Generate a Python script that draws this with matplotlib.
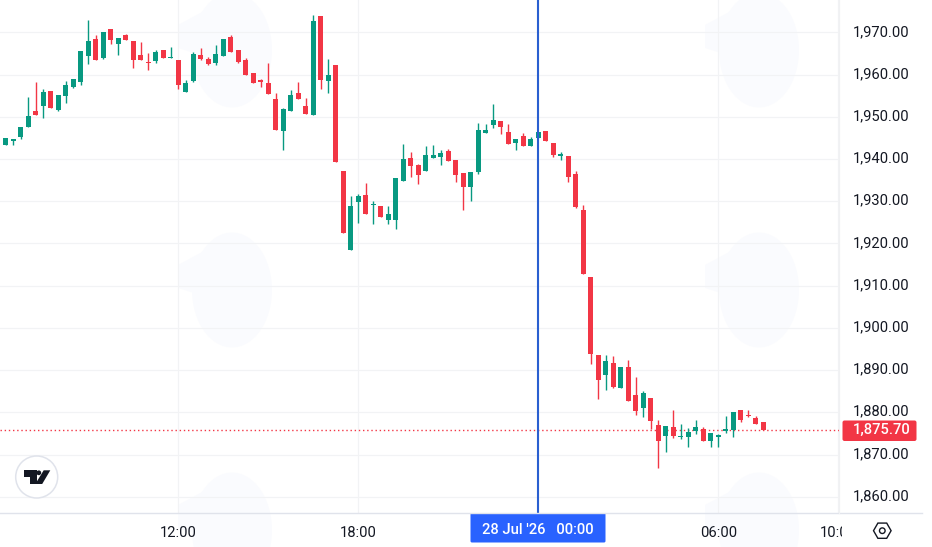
import matplotlib
matplotlib.use("Agg")
import matplotlib.pyplot as plt
from matplotlib.patches import FancyBboxPatch, Polygon, Circle, RegularPolygon, Ellipse
from matplotlib.transforms import Bbox, ScaledTranslation

# candle tops/bottoms of the body plus wick extremes (USD)
body_top = [1945.0,1944.7,1947.6,1950.2,1951.4,1955.9,1956.1,1955.2,1957.5,1958.9,1965.6,1967.9,1968.4,1970.1,1970.8,1968.7,1969.4,1967.9,1964.6,1963.0,1965.3,1965.8,1964.2,1963.4,1958.0,1964.9,1964.6,1963.7,1964.9,1968.4,1968.9,1965.8,1963.4,1960.4,1958.6,1958.0,1954.2,1951.8,1955.2,1955.6,1952.5,1972.7,1973.9,1959.9,1962.3,1937.2,1928.9,1931.2,1931.5,1929.4,1928.9,1927.0,1935.5,1940.0,1940.2,1938.6,1941.0,1941.0,1941.4,1941.9,1939.8,1936.7,1936.9,1946.9,1946.9,1949.2,1949.0,1946.4,1944.7,1945.4,1944.7,1946.4,1946.6,1943.8,1941.2,1940.7,1936.4,1927.9,1912.1,1893.6,1892.2,1891.7,1890.8,1890.8,1884.1,1884.6,1883.4,1877.0,1876.8,1876.5,1874.4,1875.4,1876.5,1876.1,1875.1,1874.6,1876.1,1880.1,1880.6,1879.4,1878.7,1877.7]
body_bot = [1943.3,1944.3,1945.2,1947.6,1950.4,1952.5,1952.1,1951.6,1954.9,1957.0,1958.2,1964.4,1963.4,1963.9,1968.2,1967.2,1968.2,1963.4,1963.4,1962.8,1963.2,1963.9,1963.9,1957.5,1955.9,1958.5,1963.7,1962.5,1962.7,1964.4,1965.3,1963.0,1959.9,1958.0,1958.3,1955.4,1946.9,1946.6,1951.4,1954.2,1950.7,1950.4,1958.7,1958.5,1939.3,1922.5,1918.5,1929.8,1927.0,1929.2,1926.3,1925.6,1925.6,1934.8,1938.3,1936.2,1937.2,1940.2,1940.5,1939.5,1936.2,1933.4,1933.4,1936.9,1946.2,1948.1,1947.6,1943.6,1943.8,1943.1,1943.1,1945.0,1944.3,1941.0,1940.8,1935.7,1928.6,1912.8,1893.8,1887.7,1888.9,1886.0,1885.8,1882.7,1880.3,1881.0,1878.0,1873.2,1874.4,1874.4,1874.2,1874.2,1875.6,1873.2,1873.2,1874.2,1875.6,1875.8,1878.2,1879.1,1877.2,1875.7]
highs = [1945.0,1944.7,1947.6,1954.7,1958.2,1956.6,1956.1,1955.2,1958.5,1958.9,1965.6,1972.9,1969.4,1970.1,1970.8,1968.7,1969.6,1967.9,1967.7,1965.1,1965.8,1965.8,1966.5,1963.4,1958.7,1965.3,1966.3,1964.2,1967.0,1968.4,1969.4,1965.8,1963.9,1960.4,1958.9,1962.7,1955.6,1952.1,1956.3,1958.2,1954.4,1974.1,1973.9,1963.7,1962.3,1937.2,1931.2,1931.7,1934.3,1930.1,1928.9,1928.9,1935.5,1943.6,1941.7,1938.8,1943.1,1943.3,1942.1,1942.4,1939.8,1936.7,1936.9,1948.5,1948.3,1953.0,1949.0,1948.3,1944.7,1946.2,1945.2,1946.4,1946.6,1943.8,1941.7,1940.7,1937.2,1929.1,1912.1,1893.6,1893.6,1893.4,1890.8,1892.4,1888.4,1885.1,1883.4,1878.2,1876.8,1880.6,1877.2,1876.3,1878.2,1876.5,1875.1,1874.9,1879.1,1880.1,1880.6,1880.6,1879.1,1877.7]
lows = [1943.3,1943.3,1944.7,1947.6,1950.4,1949.7,1952.1,1951.4,1953.3,1956.7,1957.5,1962.5,1963.4,1963.7,1967.2,1964.6,1968.2,1961.6,1963.4,1961.1,1962.7,1963.9,1963.9,1956.6,1955.9,1958.2,1963.4,1962.3,1962.3,1964.4,1965.3,1962.7,1959.9,1958.0,1957.0,1955.4,1946.9,1942.1,1951.4,1954.2,1950.7,1950.4,1956.6,1955.6,1939.3,1922.5,1918.5,1924.8,1927.0,1924.6,1926.3,1924.6,1923.4,1934.8,1935.7,1934.1,1937.2,1940.2,1938.6,1939.5,1934.6,1927.9,1930.1,1936.4,1946.2,1947.3,1945.9,1943.6,1942.1,1943.1,1943.1,1945.0,1944.3,1940.5,1939.8,1934.6,1928.4,1912.8,1891.5,1883.2,1885.3,1885.8,1885.8,1882.7,1879.4,1878.9,1876.1,1866.8,1870.6,1873.9,1873.7,1871.8,1874.9,1873.2,1871.8,1871.8,1875.1,1874.2,1877.7,1878.9,1877.2,1875.7]
direction = ("GGGGRGRGGG" "GGRGRGRRRR" "GRGRGGRRGG" "RRRRRRRGGR" "RGRGRRGGRG"
             "RGGGRRGGGR" "RRGGGGRRGR" "GGRRGRRRRR" "GRGRRGRRGR" "GGGRGGGGRR" "RR")
prices_ticks = [1860,1870,1880,1890,1900,1910,1920,1930,1940,1950,1960,1970]
time_idx = [23, 47, 95, 111]
time_lbl = ["12:00", "18:00", "06:00", "10:00"]
last_price = 1875.70
cross_idx = 71

GREEN, RED = "#089981", "#F23645"
W, H = 932, 547
plt.rcParams["font.family"] = "Roboto"
fig = plt.figure(figsize=(W/100, H/100), dpi=100, facecolor="white")
TXT = "#131722"
FS = 10.6

# faint watermark tiles, behind everything
bg = fig.add_axes([0, 0, 1, 1], zorder=0)
bg.set_xlim(0, W); bg.set_ylim(H, 0); bg.axis("off")
WM = "#fafbfe"
for cx in (240, 767):
    for cy in (50, 290, 530):
        bg.add_patch(Ellipse((cx-8, cy), 80, 115, fc=WM, ec="none"))
        bg.add_patch(Polygon([(cx-62, cy-25), (cx-12, cy-52), (cx+8, cy+20), (cx-62, cy-2)], fc=WM, ec="none"))

x1, y0 = 838.5, 513.3
ax = fig.add_axes([0, 1-y0/H, x1/W, y0/H], zorder=1, facecolor="none")
ax.set_xlim((0-5.8)/7.5, (x1-5.8)/7.5)
ax.set_ylim(1970-(513.3-32.3)/4.222, 1970+32.3/4.222)
for s in ax.spines.values():
    s.set_visible(False)
ax.set_axisbelow(True)
ax.grid(True, color="#f2f3f5", lw=0.85)
ax.set_yticks(prices_ticks)
ax.set_yticklabels([f"{p:,.2f}" for p in prices_ticks], fontsize=FS, color=TXT)
ax.yaxis.tick_right()
ax.tick_params(axis="y", length=0, pad=10.5)
ax.set_xticks(time_idx + [cross_idx])
ax.set_xticklabels(time_lbl + [""], fontsize=FS, color=TXT)
ax.tick_params(axis="x", length=0, pad=9.2)
lift = ScaledTranslation(0, 2/100, fig.dpi_scale_trans)
for t in ax.get_yticklabels():
    t.set_transform(t.get_transform() + lift)
clip = Bbox([[0, 0], [841.5, 60]])
for t in ax.get_xticklabels():
    t.set_clip_box(clip); t.set_clip_on(True)

idx = list(range(len(body_top)))
cols = [GREEN if d == "G" else RED for d in direction]
ax.vlines(idx, lows, highs, colors=cols, lw=1.0, zorder=3)
ax.bar(idx, [t-b for t, b in zip(body_top, body_bot)], bottom=body_bot, width=5/7.5, color=cols, lw=0, zorder=4)
ax.axvline(cross_idx, color="#2a5fd0", lw=1.5, zorder=6)
ax.axhline(last_price, color=RED, lw=1.0, ls=(0, (1, 2)), zorder=2, clip_on=False)

# overlay in pixel coordinates for chrome
ov = fig.add_axes([0, 0, 1, 1], facecolor="none", zorder=2)
ov.set_xlim(0, W); ov.set_ylim(H, 0); ov.axis("off")
ov.plot([0, 922], [513.3, 513.3], color="#e0e3eb", lw=1.0)
ov.plot([838.7, 838.7], [0, 513], color="#f0f1f3", lw=0.85)
ov.add_patch(FancyBboxPatch((842.5, 420.5), 74, 20.5, boxstyle="round,pad=0,rounding_size=2", fc=RED, ec="none"))
ov.text(881.5, 429.8, f"{last_price:,.2f}", color="white", fontsize=FS, ha="center", va="center", fontweight="medium")
ov.add_patch(FancyBboxPatch((470.5, 513), 135, 29.5, boxstyle="round,pad=0,rounding_size=1.5", fc="#2962FF", ec="none"))
ov.text(538, 530.5, "28 Jul '26   00:00", color="white", fontsize=FS, ha="center", va="center", fontweight="medium")
# TradingView logo
ov.add_patch(Circle((36.7, 477), 21, fc="white", ec="#e0e3eb", lw=1.1, zorder=5))
ov.add_patch(Polygon([(23.5,470.3),(36.8,470.3),(36.8,484),(30.2,484),(30.2,476.6),(23.5,476.6)], fc=TXT, ec="none", zorder=6))
ov.add_patch(Circle((38.8, 472.8), 2.4, fc=TXT, ec="none", zorder=6))
ov.add_patch(Polygon([(43.7,470.3),(50.3,470.3),(42.2,484),(35.3,484)], fc=TXT, ec="none", zorder=6))
# settings icon
ov.add_patch(RegularPolygon((882.3, 530.7), 6, radius=8.8, orientation=0.5236, fc="none", ec=TXT, lw=1.0))
ov.add_patch(Circle((882.3, 530.7), 2.8, fc="none", ec=TXT, lw=1.0))
fig.savefig("out.png", dpi=100)
